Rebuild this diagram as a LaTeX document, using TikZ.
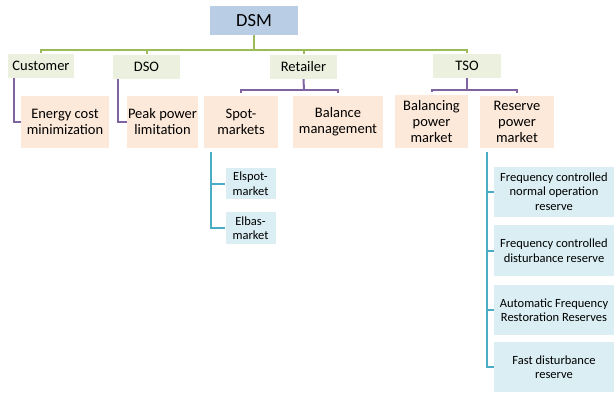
\documentclass[tikz,border=0pt]{standalone}
\usepackage{fontspec}
\setmainfont{Carlito}
\usetikzlibrary{positioning}
\definecolor{dsmblue}{HTML}{B9CDE5}
\definecolor{actorgreen}{HTML}{EBF1DE}
\definecolor{taskorange}{HTML}{FDE9D9}
\definecolor{mktblue}{HTML}{DAEEF3}
\definecolor{linegreen}{HTML}{9BBB59}
\definecolor{linepurple}{HTML}{8064A2}
\definecolor{lineteal}{HTML}{4BACC6}

\begin{document}
\begin{tikzpicture}[x=1pt, y=-1pt,
    box/.style={inner sep=0pt, align=center, font=\fontsize{14.5}{16}\selectfont},
    actor/.style={box, fill=actorgreen, minimum width=67pt, minimum height=24pt},
    task/.style={box, fill=taskorange, minimum height=52pt},
    submkt/.style={inner sep=0pt, align=center, fill=mktblue,
        font=\fontsize{12.5}{14.5}\selectfont},
    gline/.style={draw=linegreen, line width=2pt},
    pline/.style={draw=linepurple, line width=2pt},
    tline/.style={draw=lineteal, line width=2pt}]
        \useasboundingbox (0,0) rectangle (614,392);

        \node[box, fill=dsmblue, minimum width=88pt, minimum height=29pt,
            font=\fontsize{18.5}{20}\selectfont] (dsm) at (254, 20.5) {DSM};

        \node[actor, minimum width=66pt] (customer) at (41, 66) {Customer};
        \node[actor] (dso) at (146.5, 67) {DSO};
        \node[actor] (retailer) at (303.5, 67) {Retailer};
        \node[actor, minimum width=68pt] (tso) at (467, 66) {TSO};

        \node[task, minimum width=88pt] (energy) at (65, 122) {Energy cost\\minimization};
        \node[task, minimum width=71pt] (peak) at (162.5, 122) {Peak power\\limitation};
        \node[task, minimum width=74pt] (spot) at (241, 122) {Spot-\\markets};
        \node[task, minimum width=90pt] (balance) at (338, 122) {Balance\\management};
        \node[task, minimum width=73pt, minimum height=53pt] (balancing) at (431.5, 121.5) {Balancing\\power\\market};
        \node[task, minimum width=74pt] (reserve) at (517, 122) {Reserve\\power\\market};

        \node[submkt, minimum width=50pt, minimum height=31pt] (elspot) at (250.5, 183.5) {Elspot-\\market};
        \node[submkt, minimum width=50pt, minimum height=32pt] (elbas) at (250.5, 228) {Elbas-\\market};

        \node[submkt, minimum width=120pt, minimum height=50pt] (fcnor) at (554, 191.5) {Frequency controlled\\normal operation\\reserve};
        \node[submkt, minimum width=120pt, minimum height=51pt] (fcdr) at (554, 250.5) {Frequency controlled\\disturbance reserve};
        \node[submkt, minimum width=120pt, minimum height=50pt] (afrr) at (554, 310) {Automatic Frequency\\Restoration Reserves};
        \node[submkt, minimum width=120pt, minimum height=50pt] (fdr) at (554, 367) {Fast disturbance\\reserve};

        % top level
        \coordinate (bus) at (254, 50);
        \draw[gline] (dsm.south) -- (bus);
        \foreach \n in {customer, dso, retailer, tso}
            \draw[gline] ([yshift=1pt]\n.north) |- (bus);

        % actors to tasks
        \draw[pline] ([xshift=6pt]customer.south west) |- (energy.west);
        \draw[pline] ([xshift=5pt]dso.south west) |- (peak.west);

        \coordinate (rbus) at (304, 90);
        \draw[pline] (retailer.south) -- (rbus);
        \draw[pline] ([yshift=3pt]spot.north) |- (rbus) -| ([yshift=3pt]balance.north);

        \coordinate (tbus) at (467, 90);
        \draw[pline] (tso.south) -- (tbus);
        \draw[pline] ([yshift=3pt]balancing.north) |- (tbus) -| ([yshift=3pt]reserve.north);

        % markets
        \draw[tline] ([xshift=7pt, yshift=-4pt]spot.south west) |- (elspot.west);
        \draw[tline] ([xshift=7pt, yshift=-4pt]spot.south west) |- (elbas.west);

        \foreach \n in {fcnor, fcdr, afrr, fdr}
            \draw[tline] ([xshift=7pt, yshift=-4pt]reserve.south west) |- (\n.west);
\end{tikzpicture}
\end{document}
